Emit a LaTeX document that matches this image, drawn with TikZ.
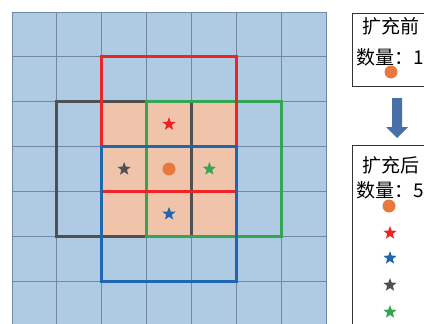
\documentclass[tikz,border=0pt]{standalone}
\usepackage{fontspec}
\newfontfamily\cjk{Noto Sans CJK SC}
\usetikzlibrary{shapes.geometric}
\definecolor{cellblue}{RGB}{174,203,227}
\definecolor{gridline}{RGB}{112,136,162}
\definecolor{hot}{RGB}{240,196,170}
\definecolor{fred}{RGB}{236,36,38}
\definecolor{fgreen}{RGB}{52,166,82}
\definecolor{fblue}{RGB}{30,102,176}
\definecolor{fgray}{RGB}{80,80,80}
\definecolor{dot}{RGB}{230,122,62}
\definecolor{arrowblue}{RGB}{72,112,168}
\tikzset{
  frame/.style={line width=2.8pt},
  starmark/.style={star, star points=5, star point ratio=2.4, minimum size=14pt, inner sep=0pt, draw=none},
  dotmark/.style={circle, minimum size=13pt, inner sep=0pt, fill=dot, draw=none},
  infobox/.style={draw=black!80, line width=0.8pt},
  label/.style={font=\cjk\fontsize{19}{21}\selectfont, inner sep=0pt, anchor=west}
}
\begin{document}
\begin{tikzpicture}[x=1pt,y=-1pt]
\useasboundingbox (0,0) rectangle (424,324);
\clip (0,0) rectangle (424,324);
\def\cs{44.86}
% grid background
\fill[cellblue] (12,12) rectangle (326,326);
\fill[hot] ({12+2*\cs},{12+2*\cs}) rectangle ({12+5*\cs},{12+5*\cs});
\foreach \i in {0,...,7}{
  \draw[gridline, line width=1pt] ({12+\i*\cs},12) -- ({12+\i*\cs},326);
  \draw[gridline, line width=1pt] (12,{12+\i*\cs}) -- (326,{12+\i*\cs});
}
% windows
\draw[frame, fgray] ({12+1*\cs},{12+2*\cs}) rectangle ({12+4*\cs},{12+5*\cs});
\draw[frame, fgreen] ({12+3*\cs},{12+2*\cs}) rectangle ({12+6*\cs},{12+5*\cs});
\draw[frame, fred] ({12+2*\cs},{12+1*\cs}) rectangle ({12+5*\cs},{12+4*\cs});
\draw[frame, fblue] ({12+2*\cs},{12+3*\cs}) rectangle ({12+5*\cs},{12+6*\cs});
% markers on grid
\node[dotmark] (c0) at ({12+3.5*\cs},{12+3.5*\cs}) {};
\node[starmark, fill=fred] (sr) at ({12+3.5*\cs},{12+2.5*\cs}) {};
\node[starmark, fill=fgray] (sk) at ({12+2.5*\cs},{12+3.5*\cs}) {};
\node[starmark, fill=fgreen] (sg) at ({12+4.4*\cs},{12+3.5*\cs}) {};
\node[starmark, fill=fblue] (sb) at ({12+3.5*\cs},{12+4.5*\cs}) {};
% info box before
\draw[infobox] (352,13) rectangle (440,86);
\node[label] (t1) at (362,26) {扩充前};
\node[label] (t2) at (356,57) {数量：1};
\node[dotmark] (d1) at (391,72) {};
% arrow
\fill[arrowblue] (392,98) -- (402,98) -- (402,127) -- (408,127) -- (397,138) -- (386,127) -- (392,127) -- cycle;
% info box after
\draw[infobox] (352,145) rectangle (440,340);
\node[label] (t3) at (362,165) {扩充后};
\node[label] (t4) at (356,190) {数量：5};
\node[dotmark] (d2) at (389,206) {};
\node[starmark, fill=fred] (l1) at (390,233) {};
\node[starmark, fill=fblue] (l2) at (390,258) {};
\node[starmark, fill=fgray] (l3) at (390,285) {};
\node[starmark, fill=fgreen] (l4) at (390,312) {};
\end{tikzpicture}
\end{document}
